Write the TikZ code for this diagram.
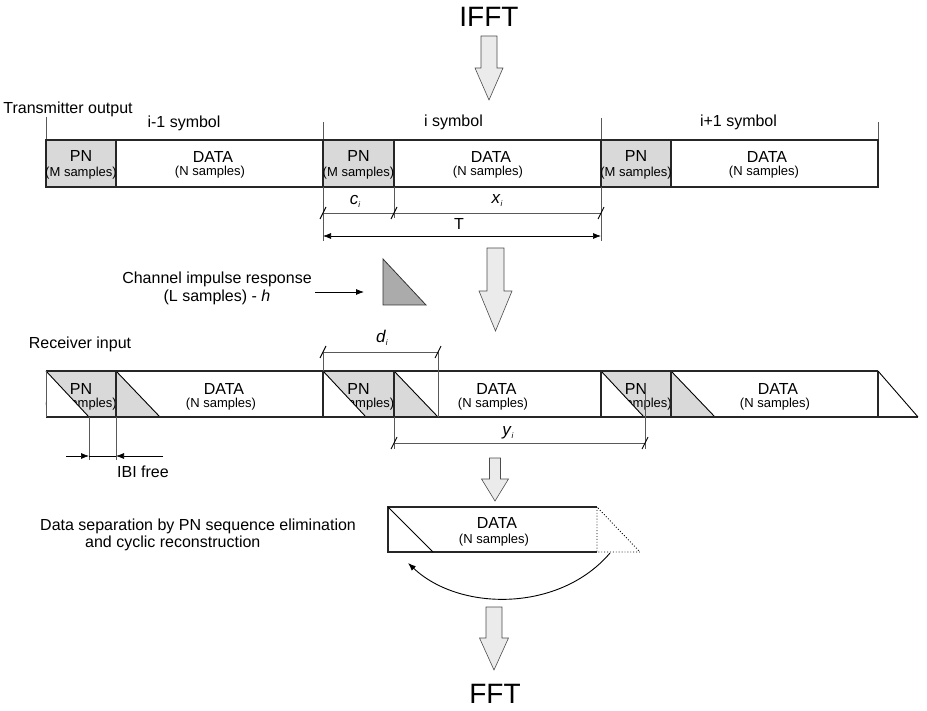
\documentclass[tikz,border=0pt]{standalone}
\usepackage{fontspec}
\setmainfont{Liberation Sans}
\usetikzlibrary{arrows.meta}
\newcommand\isub[1]{\textit{#1}{\fontsize{8}{8}\selectfont\raisebox{-3pt}{\textit{i}}}}
\begin{document}
\begin{tikzpicture}[x=1pt,y=-1pt,
  lbl/.style={font=\fontsize{16}{18}\selectfont, inner sep=0pt},
  small/.style={font=\fontsize{13}{15}\selectfont, inner sep=0pt},
  ital/.style={font=\fontsize{17}{19}\selectfont, inner sep=0pt},
  big/.style={font=\fontsize{28}{32}\selectfont, inner sep=0pt},
  boxline/.style={draw=black!85, line width=1.2pt},
  thinline/.style={draw=black!65, line width=0.6pt},
  pnfill/.style={fill=black!15},
  chfill/.style={fill=black!33},
  bigarrow/.style={fill=black!8, draw=black!70, line width=0.6pt},
  tip/.style={-{Latex[length=8pt,width=6pt]}},
  tick/.style={draw=black, line width=0.9pt},
]
\useasboundingbox (0,0) rectangle (927,711);

% ---------- IFFT ----------
\node[big] (ifft) at (489,17) {IFFT};
\draw[bigarrow] (481,36) -- (497,36) -- (497,68) -- (503,68) -- (489,100) -- (475,68) -- (481,68) -- cycle;

% ---------- Transmitter output ----------
\node[lbl] (txlbl) at (68,109) {Transmitter output};
\node[lbl] (sym1) at (184,123) {i-1 symbol};
\node[lbl] (sym2) at (453.5,122) {i symbol};
\node[lbl] (sym3) at (738.5,122) {i+1 symbol};
\draw[thinline] (46,117) -- (46,140);
\draw[thinline] (323,122) -- (323,140);
\draw[thinline] (601,118) -- (601,140);
\draw[thinline] (878,122) -- (878,140);

\fill[pnfill] (46,140) rectangle (116,187);
\fill[pnfill] (323,140) rectangle (394,187);
\fill[pnfill] (601,140) rectangle (671,187);
\draw[boxline] (46,140) rectangle (878,187);
\foreach \x in {116,323,394,601,671} \draw[boxline] (\x,140) -- (\x,187);

\foreach \c in {81,358.5,636} {
  \node[lbl] at (\c,156) {PN};
  \node[small] at (\c,173) {(M samples)};
}
\foreach \c in {213,491,767} {
  \node[lbl] at (\c,157) {DATA};
  \node[small] at (\c-3,172) {(N samples)};
}

% dimensions c_i, x_i, T
\draw[thinline] (323,187) -- (323,241);
\draw[thinline] (394,187) -- (394,218);
\draw[thinline] (601,187) -- (601,241);
\draw[thinline] (323,213) -- (601,213);
\foreach \x in {323,394,601} \draw[tick] (\x-3,219) -- (\x+3,207);
\node[ital] (ci) at (355,201) {\isub{c}};
\node[ital] (xi) at (497,201) {\isub{x}};
\node[lbl] (T) at (459,224) {T};
\draw[black, line width=0.7pt, {Latex[length=8pt,width=6pt]}-{Latex[length=8pt,width=6pt]}] (323,236) -- (601,236);

% ---------- Channel ----------
\node[lbl, align=center] (chlbl) at (217,288) {Channel impulse response\\(L samples) - \textit{h}};
\coordinate (chA) at (315,292);
\coordinate (chB) at (364,292);
\draw[black, line width=0.8pt, tip] (chA) -- (chB);
\draw[chfill, draw=black!80, line width=0.8pt] (383,259) -- (383,305) -- (426,305) -- cycle;
\draw[bigarrow] (487,248) -- (504,248) -- (504,291) -- (512,291) -- (495.5,331) -- (479,291) -- (487,291) -- cycle;

% ---------- Receiver input ----------
\node[lbl] (rxlbl) at (80,344) {Receiver input};

\foreach \s/\p/\n in {46/116/323, 323/394/601, 601/671/878} {
  \fill[pnfill] (\s,371) rectangle (\p,417);
  \node[small] at ({(\s+\p)/2},404) {(M samples)};
  \fill[white] (\s,371) -- (\s,417) -- (\s+43,417) -- cycle;
  \draw[black, line width=0.9pt] (\s,371) -- (\s+43,417);
  \node[lbl] at ({(\s+\p)/2},389) {PN};
  \fill[pnfill] (\p,371) -- (\p,417) -- (\p+44,417) -- cycle;
  \draw[black, line width=0.9pt] (\p,371) -- (\p+44,417);
}
\node[lbl] at (224,389) {DATA};
\node[small] at (221,404) {(N samples)};
\node[lbl] at (496.5,389) {DATA};
\node[small] at (493,404) {(N samples)};
\node[lbl] at (778,389) {DATA};
\node[small] at (775,404) {(N samples)};

\draw[boxline] (46,371) -- (878,371);
\draw[boxline] (46,417) -- (918,417);
\draw[thinline] (46,371) -- (46,417);
\foreach \x in {116,323,394,601,671,878} \draw[boxline] (\x,371) -- (\x,417);
\draw[black, line width=0.9pt] (878,371) -- (918,417);

% d_i
\draw[thinline] (323,352) -- (323,371);
\draw[thinline] (438,352) -- (438,417);
\draw[thinline] (323,352) -- (438,352);
\foreach \x in {323,438} \draw[tick] (\x-3,358) -- (\x+3,346);
\node[ital] (di) at (382,338) {\isub{d}};

% y_i
\draw[thinline] (394,417) -- (394,449);
\draw[thinline] (645,383) -- (645,449);
\draw[thinline] (394,443) -- (645,443);
\foreach \x in {394,645} \draw[tick] (\x-3,449) -- (\x+3,437);
\node[ital] (yi) at (508,433) {\isub{y}};

% IBI free
\draw[thinline] (89,417) -- (89,460);
\draw[thinline] (116,417) -- (116,460);
\coordinate (ibiL) at (66,456);
\coordinate (ibiA) at (89,456);
\coordinate (ibiB) at (116,456);
\coordinate (ibiR) at (163,456);
\draw[black, line width=0.7pt, tip] (ibiL) -- (ibiA);
\draw[black, line width=0.7pt, tip] (ibiR) -- (ibiB);
\draw[black, line width=0.5pt] (ibiA) -- (ibiB);
\node[lbl] (ibi) at (143,472) {IBI free};

% small arrow
\draw[bigarrow] (489.5,458) -- (500.5,458) -- (500.5,479) -- (508.5,479) -- (495,501) -- (481.5,479) -- (489.5,479) -- cycle;

% ---------- Data separation ----------
\node[lbl, anchor=west] (sep1) at (40,526) {Data separation by PN sequence elimination};
\node[lbl, anchor=west] (sep2) at (85,543) {and cyclic reconstruction};
\draw[boxline] (597,507) -- (388,507) -- (388,552) -- (597,552);
\draw[black, line width=0.9pt] (388,507) -- (433,552);
\draw[black, line width=0.9pt, dotted] (597,507) -- (597,552) -- (640,552) -- cycle;
\node[lbl] (dsdata) at (497,523) {DATA};
\node[small] (dsn) at (494,540) {(N samples)};
\coordinate (cycA) at (610,553);
\coordinate (cycB) at (408,563);
\draw[black, line width=0.9pt, tip] (cycA) .. controls (560,612) and (460,612) .. (cycB);

% ---------- FFT ----------
\draw[bigarrow] (486,607) -- (502,607) -- (502,638) -- (508.5,638) -- (494,670) -- (479.5,638) -- (486,638) -- cycle;
\node[big] (fft) at (495,694) {FFT};
\end{tikzpicture}
\end{document}
